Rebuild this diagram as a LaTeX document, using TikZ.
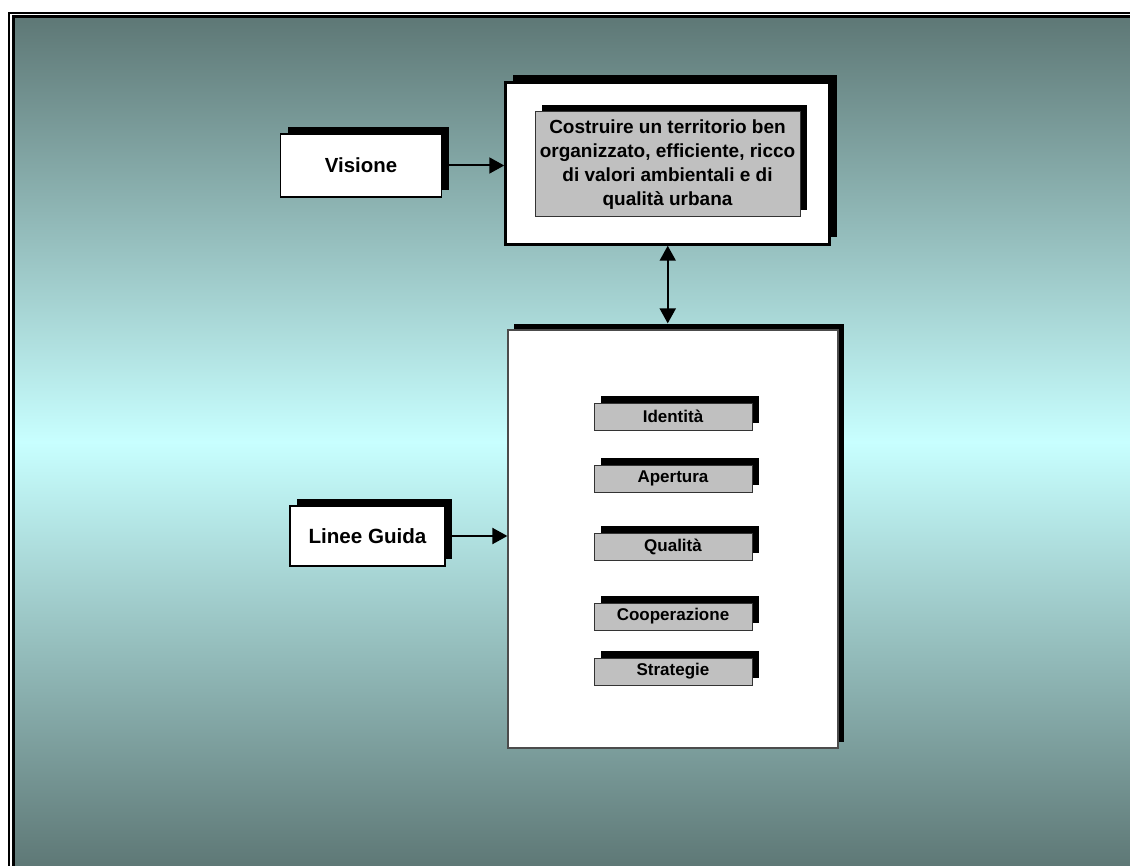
\documentclass[tikz,border=0pt]{standalone}
\usepackage{fontspec}
\setmainfont{Liberation Sans}
\usetikzlibrary{arrows.meta,shadows}

\definecolor{tealdark}{RGB}{94,120,118}
\definecolor{tealpale}{RGB}{200,255,255}
\definecolor{boxgray}{RGB}{192,192,192}

\tikzset{
	blockshadow/.style={general shadow={fill=black, shadow xshift=#1, shadow yshift=#1}},
	sidebox/.style={draw=black, line width=0.8pt, fill=white, blockshadow=3.5pt, inner sep=0pt, font=\fontsize{10.2}{12}\selectfont\bfseries},
	framebox/.style={draw=black, fill=white, inner sep=0pt},
	graybox/.style={draw=black!80, line width=0.5pt, fill=boxgray, blockshadow=3.5pt, inner sep=0pt, align=center},
	itembox/.style={graybox, minimum width=79pt, minimum height=13.5pt, font=\fontsize{8.5}{10}\selectfont\bfseries},
	link/.style={line width=1pt, -{Triangle[length=7.5pt,width=8pt]}},
}

\begin{document}
\begin{tikzpicture}[x=0.5pt, y=-0.5pt]
		%%%%% START %%%%%
		\clip (0, 0) rectangle (1130, 866);
		\fill[white] (0, 0) rectangle (1130, 866);
		\shade[top color=tealdark, bottom color=tealdark, middle color=tealpale] (14, 18) rectangle (1130, 866);
		\draw[line width=1pt] (9, 13) rectangle (1140, 880);
		\draw[line width=1.5pt] (13.5, 17) rectangle (1140, 880);
		
		\node[sidebox, minimum width=80.5pt, minimum height=31.5pt] (visione) at (361, 165.5) {Visione};
		\node[sidebox, font=\fontsize{10.3}{12}\selectfont\bfseries, minimum width=77.5pt, minimum height=30pt] (linee) at (367.5, 536) {Linee Guida};
		
		\node[framebox, line width=1.5pt, blockshadow=3.5pt, minimum width=162pt, minimum height=81pt] (vision) at (667.75, 163.25) {};
		\node[graybox, minimum width=132.5pt, minimum height=52.5pt, font=\fontsize{9.5}{12}\selectfont\bfseries] (visiontext) at (667.5, 164.5) {Costruire un territorio ben\\organizzato, efficiente, ricco\\di valori ambientali e di\\qualità urbana};
		
		\node[framebox, draw=black!70, line width=0.6pt, blockshadow=3pt, minimum width=165pt, minimum height=209pt] (guide) at (673, 539) {};
		\node[itembox] (identita) at (673, 416.5) {Identità};
		\node[itembox] (apertura) at (673, 478.5) {Apertura};
		\node[itembox] (qualita) at (673, 546.5) {Qualità};
		\node[itembox] (cooperazione) at (673, 616.5) {Cooperazione};
		\node[itembox] (strategie) at (673, 671.5) {Strategie};
		
		\draw[link] (visione.east) -- (visione.east -| vision.west);
		\draw[link] (linee.east) -- (linee.east -| guide.west);
		\draw[link, {Triangle[length=7.5pt,width=8pt]}-{Triangle[length=7.5pt,width=8pt]}, shorten >=3pt] (vision.south) -- (vision.south |- guide.north);
		%%%%% END %%%%%
\end{tikzpicture}
\end{document}
